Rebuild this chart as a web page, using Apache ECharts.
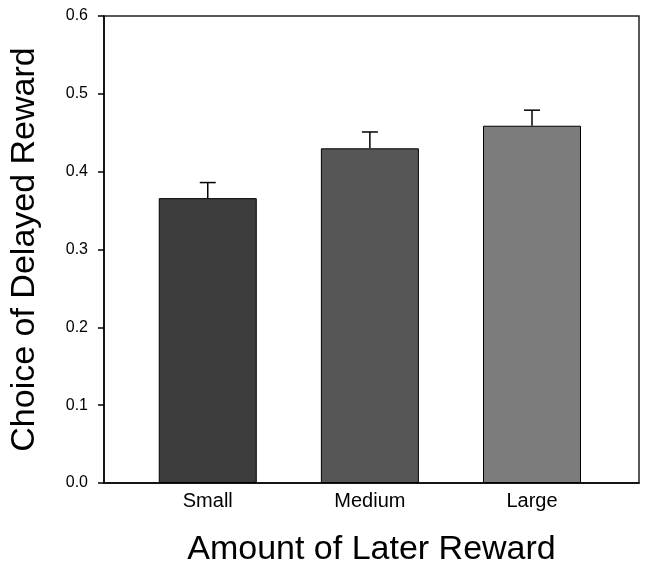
<!DOCTYPE html>
<html>
<head>
<meta charset="utf-8">
<script src="https://cdn.jsdelivr.net/npm/echarts@6/dist/echarts.min.js"></script>
<style>
  html, body { margin: 0; padding: 0; background: #fff; }
  #chart { width: 649px; height: 572px; }
</style>
</head>
<body>
<div id="chart"></div>
<script>
// data
var categories = ['Small', 'Medium', 'Large'];
var positions = [1, 2, 3];
var means = [0.366, 0.430, 0.459];
var errors = [0.020, 0.021, 0.020];
var barColors = ['#3c3c3c', '#565656', '#7c7c7c'];

var font = 'Liberation Sans, Arial, sans-serif';

var chart = echarts.init(document.getElementById('chart'));

var barData = positions.map(function (p, i) {
    return { value: [p, means[i]], itemStyle: { color: barColors[i] } };
});
var errData = positions.map(function (p, i) {
    return [p, means[i], means[i] + errors[i]];
});

var option = {
    animation: false,
    grid: {
        left: 102, right: 10, top: 16, bottom: 86,
        show: true,
        borderColor: '#222',
        borderWidth: 1.5
    },
    xAxis: {
        type: 'value',
        min: 0.36,
        max: 3.66,
        name: 'Amount of Later Reward',
        nameLocation: 'middle',
        nameGap: 50,
        nameTextStyle: { fontFamily: font, fontSize: 34, color: '#000' },
        axisLine: { show: true, onZero: false, lineStyle: { color: '#000', width: 1.5 } },
        axisTick: { show: false },
        splitLine: { show: false },
        axisLabel: {
            customValues: positions,
            margin: 8,
            fontFamily: font,
            fontSize: 20,
            color: '#000',
            formatter: function (v) {
                var idx = positions.indexOf(v);
                return idx >= 0 ? categories[idx] : '';
            }
        }
    },
    yAxis: {
        type: 'value',
        min: 0,
        max: 0.6,
        interval: 0.1,
        name: 'Choice of Delayed Reward',
        nameLocation: 'middle',
        nameGap: 62,
        nameTextStyle: { fontFamily: font, fontSize: 34, color: '#000' },
        axisLine: { show: true, lineStyle: { color: '#000', width: 1.5 } },
        axisTick: { show: true, length: 6, lineStyle: { color: '#000', width: 1.5 } },
        splitLine: { show: false },
        axisLabel: {
            margin: 16,
            fontFamily: font,
            fontSize: 16,
            color: '#000',
            formatter: function (v) { return v.toFixed(1); }
        }
    },
    series: [
        {
            type: 'bar',
            barWidth: 98,
            data: barData,
            itemStyle: { borderColor: '#000', borderWidth: 1 }
        },
        {
            type: 'custom',
            data: errData,
            z: 1,
            renderItem: function (params, api) {
                var x = api.value(0);
                var base = api.coord([x, api.value(1)]);
                var top = api.coord([x, api.value(2)]);
                var half = 8;
                return {
                    type: 'group',
                    children: [
                        {
                            type: 'line',
                            shape: { x1: base[0], y1: base[1], x2: top[0], y2: top[1] },
                            style: { stroke: '#000', lineWidth: 1.5 }
                        },
                        {
                            type: 'line',
                            shape: { x1: top[0] - half, y1: top[1], x2: top[0] + half, y2: top[1] },
                            style: { stroke: '#000', lineWidth: 1.5 }
                        }
                    ]
                };
            }
        }
    ]
};
chart.setOption(option);
</script>
</body>
</html>
